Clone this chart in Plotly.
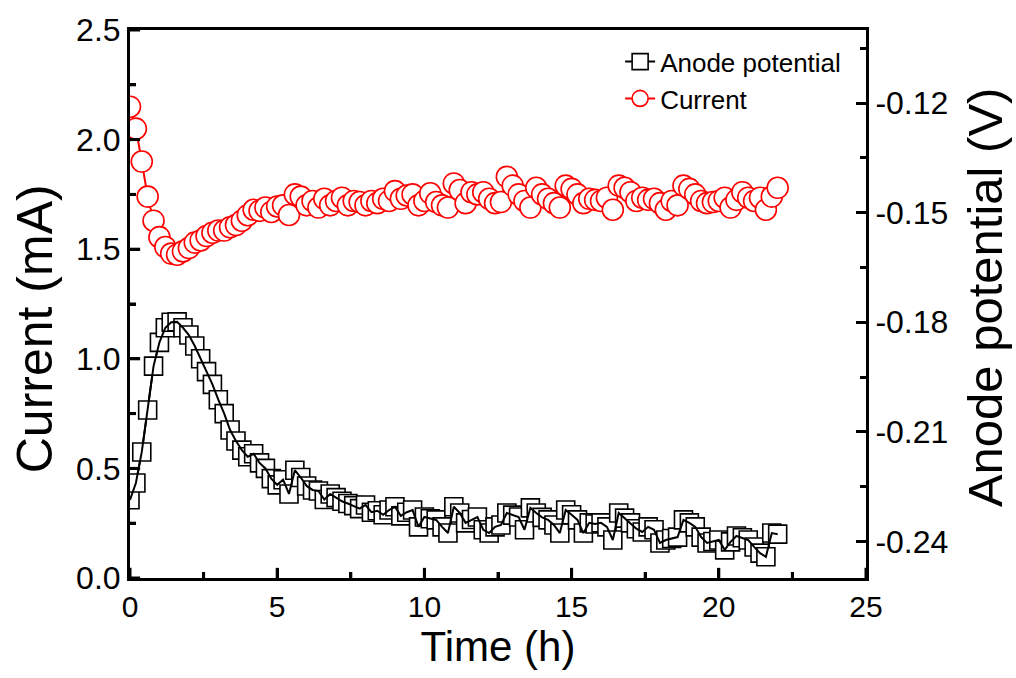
import plotly.graph_objects as go

# ---------------- data ----------------
time_h = [0.0, 0.2, 0.4, 0.6, 0.8, 1.0, 1.2, 1.4, 1.6, 1.8,
          2.0, 2.2, 2.4, 2.6, 2.8, 3.0, 3.2, 3.4, 3.6, 3.8,
          4.0, 4.2, 4.4, 4.6, 4.8, 5.0, 5.2, 5.4, 5.6, 5.8,
          6.0, 6.2, 6.4, 6.6, 6.8, 7.0, 7.2, 7.4, 7.6, 7.8,
          8.0, 8.2, 8.4, 8.6, 8.8, 9.0, 9.2, 9.4, 9.6, 9.8,
          10.0, 10.2, 10.4, 10.6, 10.8, 11.0, 11.2, 11.4, 11.6, 11.8,
          12.0, 12.2, 12.4, 12.6, 12.8, 13.0, 13.2, 13.4, 13.6, 13.8,
          14.0, 14.2, 14.4, 14.6, 14.8, 15.0, 15.2, 15.4, 15.6, 15.8,
          16.0, 16.2, 16.4, 16.6, 16.8, 17.0, 17.2, 17.4, 17.6, 17.8,
          18.0, 18.2, 18.4, 18.6, 18.8, 19.0, 19.2, 19.4, 19.6, 19.8,
          20.0, 20.2, 20.4, 20.6, 20.8, 21.0, 21.2, 21.4, 21.6, 21.8,
          22.0]

current_mA = [2.15, 2.05, 1.90, 1.74, 1.63, 1.555, 1.51, 1.48, 1.475, 1.49,
              1.505, 1.53, 1.54, 1.56, 1.575, 1.585, 1.585, 1.60, 1.61, 1.63,
              1.655, 1.68, 1.675, 1.69, 1.67, 1.695, 1.70, 1.656, 1.75, 1.74,
              1.70, 1.72, 1.69, 1.73, 1.70, 1.72, 1.735, 1.70, 1.72, 1.715,
              1.70, 1.72, 1.71, 1.73, 1.72, 1.765, 1.73, 1.745, 1.75, 1.70,
              1.72, 1.755, 1.715, 1.70, 1.69, 1.80, 1.77, 1.71, 1.76, 1.75,
              1.76, 1.73, 1.71, 1.715, 1.83, 1.79, 1.75, 1.72, 1.69, 1.78,
              1.75, 1.73, 1.71, 1.69, 1.79, 1.775, 1.75, 1.71, 1.73, 1.725,
              1.72, 1.735, 1.68, 1.79, 1.78, 1.76, 1.72, 1.735, 1.725, 1.73,
              1.71, 1.68, 1.72, 1.70, 1.79, 1.775, 1.75, 1.72, 1.71, 1.715,
              1.72, 1.735, 1.69, 1.725, 1.76, 1.735, 1.72, 1.735, 1.68, 1.74,
              1.78]

anode_V = [-0.2286, -0.2240, -0.2155, -0.2040, -0.1920, -0.1855, -0.1815, -0.1800, -0.1799, -0.1815,
           -0.1835, -0.1865, -0.1900, -0.1935, -0.1970, -0.2012, -0.2050, -0.2095, -0.2125, -0.2150,
           -0.2168, -0.2160, -0.2185, -0.2200, -0.2228, -0.2245, -0.2231, -0.2270, -0.2205, -0.2225,
           -0.2248, -0.2259, -0.2262, -0.2285, -0.2270, -0.2280, -0.2290, -0.2296, -0.2302, -0.2310,
           -0.2300, -0.2320, -0.2316, -0.2327, -0.2314, -0.2305, -0.2330, -0.2320, -0.2314, -0.2360,
           -0.2333, -0.2338, -0.2341, -0.2360, -0.2377, -0.2305, -0.2322, -0.2349, -0.2340, -0.2333,
           -0.2368, -0.2377, -0.2360, -0.2355, -0.2322, -0.2328, -0.2333, -0.2368, -0.2308, -0.2322,
           -0.2334, -0.2341, -0.2355, -0.2377, -0.2314, -0.2327, -0.2341, -0.2377, -0.2349, -0.2352,
           -0.2349, -0.2360, -0.2396, -0.2322, -0.2336, -0.2349, -0.2365, -0.2374, -0.2360, -0.2368,
           -0.2404, -0.2396, -0.2392, -0.2388, -0.2341, -0.2349, -0.2360, -0.2388, -0.2404, -0.2400,
           -0.2396, -0.2423, -0.2401, -0.2385, -0.2390, -0.2396, -0.2415, -0.2432, -0.2442, -0.2377,
           -0.2380]

x_tickvals = [0, 5, 10, 15, 20, 25]
x_ticktext = ["0", "5", "10", "15", "20", "25"]
x_minorvals = [2.5, 7.5, 12.5, 17.5, 22.5]
y_tickvals = [0.0, 0.5, 1.0, 1.5, 2.0, 2.5]
y_ticktext = ["0.0", "0.5", "1.0", "1.5", "2.0", "2.5"]
y_minorvals = [0.25, 0.75, 1.25, 1.75, 2.25]
y2_tickvals = [-0.24, -0.21, -0.18, -0.15, -0.12]
y2_ticktext = ["-0.24", "-0.21", "-0.18", "-0.15", "-0.12"]
y2_minorvals = [-0.225, -0.195, -0.165, -0.135, -0.105]

X_RANGE = [0, 25]
Y_RANGE = [0, 2.5]
Y2_RANGE = [-0.25, -0.10]

# ---------------- figure ----------------
FONT = "Liberation Sans, Arial, sans-serif"

fig = go.Figure()

# anode potential: squares with white fill, line drawn on top
fig.add_trace(go.Scatter(
    x=time_h, y=anode_V, yaxis="y2", name="Anode potential",
    mode="lines+markers",
    line=dict(color="black", width=2),
    marker=dict(symbol="square", size=18, color="white",
                line=dict(color="black", width=1.6)),
))
fig.add_trace(go.Scatter(
    x=time_h, y=anode_V, yaxis="y2", showlegend=False, hoverinfo="skip",
    mode="lines", line=dict(color="black", width=2),
))

# current: red circles
fig.add_trace(go.Scatter(
    x=time_h, y=current_mA, name="Current",
    mode="lines+markers",
    line=dict(color="#ff0000", width=2),
    marker=dict(symbol="circle", size=21, color="white",
                line=dict(color="#ff0000", width=1.6)),
))

# inward tick marks on the bottom and left axes, drawn as line markers centred
# on the axis and clipped by the plot area (so only the inner half shows)
def tick_trace(xs, ys, symbol, size, yaxis="y"):
    return go.Scatter(
        x=xs, y=ys, yaxis=yaxis, mode="markers", showlegend=False,
        hoverinfo="skip", cliponaxis=True,
        marker=dict(symbol=symbol, size=size, color="black",
                    line=dict(color="black", width=3)),
    )

MAJOR = 14.5   # half-length ~10 px inside
MINOR = 8.6    # half-length ~6 px inside
fig.add_trace(tick_trace(x_tickvals, [Y_RANGE[0]] * len(x_tickvals), "line-ns", MAJOR))
fig.add_trace(tick_trace(x_minorvals, [Y_RANGE[0]] * len(x_minorvals), "line-ns", MINOR))
fig.add_trace(tick_trace([X_RANGE[0]] * len(y_tickvals), y_tickvals, "line-ew", MAJOR))
fig.add_trace(tick_trace([X_RANGE[0]] * len(y_minorvals), y_minorvals, "line-ew", MINOR))

def minor_spec(vals, length=6):
    return dict(ticks="inside", ticklen=length, tickwidth=3, tickcolor="black",
                tickmode="array", tickvals=vals)

fig.update_layout(
    width=1016, height=678,
    margin=dict(l=130, r=150, t=30, b=100),
    paper_bgcolor="white", plot_bgcolor="rgba(0,0,0,0)",
    font=dict(family=FONT, color="black"),
    xaxis=dict(
        showline=True, linecolor="black", linewidth=3, mirror=True,
        showgrid=False, zeroline=False,
        ticks="inside", ticklen=10, tickwidth=3, tickcolor="black",
        range=X_RANGE,
        tickmode="array", tickvals=x_tickvals, ticktext=x_ticktext,
        minor=minor_spec(x_minorvals),
        tickfont=dict(size=30),
        title=dict(text="Time (h)", font=dict(size=42), standoff=4),
    ),
    yaxis=dict(
        showline=True, linecolor="black", linewidth=3,
        showgrid=False, zeroline=False,
        ticks="inside", ticklen=10, tickwidth=3, tickcolor="black",
        range=Y_RANGE,
        tickmode="array", tickvals=y_tickvals, ticktext=y_ticktext,
        minor=minor_spec(y_minorvals),
        tickfont=dict(size=32),
    ),
    yaxis2=dict(
        showline=True, linecolor="black", linewidth=3,
        showgrid=False, zeroline=False,
        ticks="inside", ticklen=10, tickwidth=3, tickcolor="black",
        overlaying="y", side="right", anchor="x",
        range=Y2_RANGE,
        tickmode="array", tickvals=y2_tickvals, ticktext=y2_ticktext,
        minor=minor_spec(y2_minorvals),
        tickfont=dict(size=32),
    ),
    legend=dict(
        x=0.973, y=0.985, xanchor="right", yanchor="top",
        bgcolor="rgba(0,0,0,0)", borderwidth=0,
        font=dict(size=26, family=FONT),
        tracegroupgap=0,
    ),
    annotations=[
        dict(text="Current (mA)", xref="paper", yref="paper",
             x=-0.129, y=0.454, xanchor="center", yanchor="middle",
             textangle=-90, showarrow=False, font=dict(size=50)),
        dict(text="Anode potential (V)", xref="paper", yref="paper",
             x=1.162, y=0.513, xanchor="center", yanchor="middle",
             textangle=-90, showarrow=False, font=dict(size=49)),
    ],
    showlegend=True,
)

fig.write_html("out.html")
